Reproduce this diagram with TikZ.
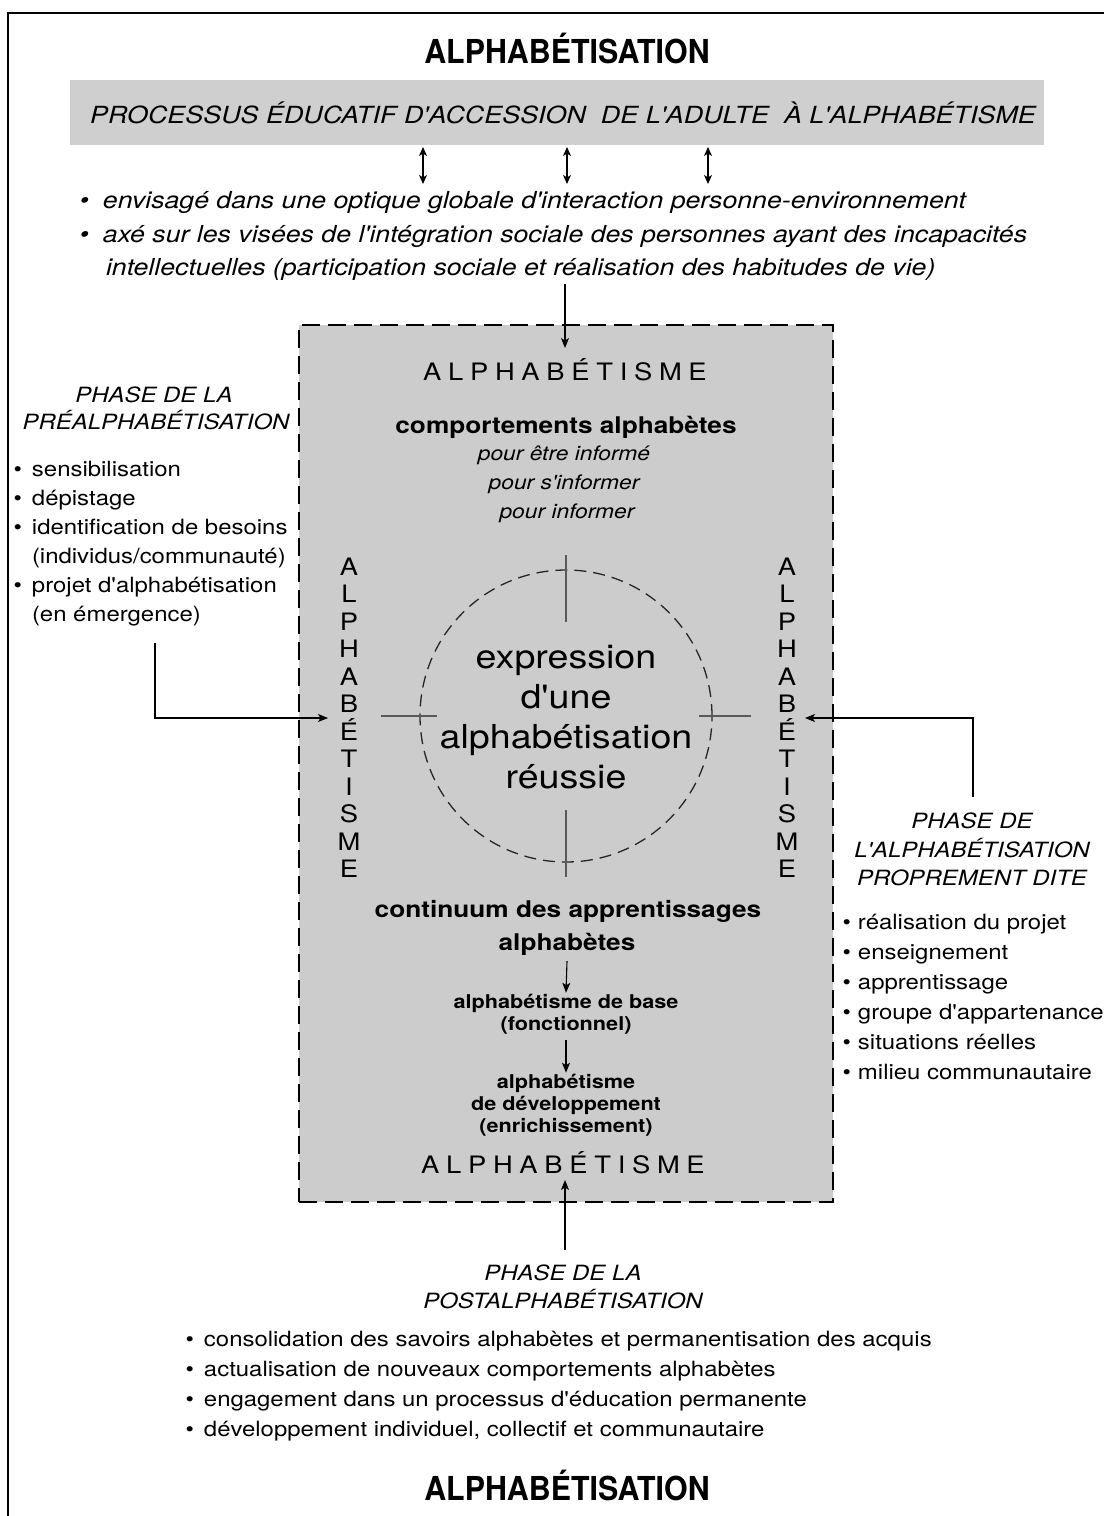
\documentclass[tikz,border=0pt]{standalone}
\usepackage{fontspec}
\setmainfont{TeX Gyre Heros}[FakeStretch=1.14, Ligatures=TeXOff]
\newfontfamily\titlefont{TeX Gyre Heros}[FakeStretch=0.92, Ligatures=TeXOff]
\usetikzlibrary{arrows.meta}
\definecolor{screen}{gray}{0.80}
\definecolor{bandgray}{gray}{0.81}
\newcommand\bul[1]{\makebox[0pt][r]{\textbullet\hspace{#1}}}
\newcommand\lsp{\hspace{6.7pt}}
\newcommand\spaceword{A\lsp L\lsp P\lsp H\lsp A\lsp B\lsp É\lsp T\lsp I\lsp S\lsp M\lsp E}

\begin{document}
\begin{tikzpicture}[x=1pt,y=-1pt,
  every node/.style={inner sep=0pt, outer sep=0pt},
  title/.style={anchor=base, font=\titlefont\bfseries\fontsize{33}{36}\selectfont},
  bantext/.style={anchor=base, font=\itshape\fontsize{23.6}{28}\selectfont},
  topitem/.style={anchor=base west, font=\itshape\fontsize{23.4}{28}\selectfont},
  item/.style={anchor=base west, font=\fontsize{21}{25}\selectfont},
  phase/.style={anchor=base, font=\itshape\fontsize{21}{25}\selectfont},
  spaced/.style={anchor=base, font=\fontsize{24}{28}\selectfont},
  vletter/.style={anchor=base, font=\fontsize{24}{28}\selectfont},
  heading/.style={anchor=base, font=\bfseries\fontsize{23}{28}\selectfont},
  purpose/.style={anchor=base, font=\itshape\fontsize{20}{24}\selectfont},
  level/.style={anchor=base, font=\bfseries\fontsize{19}{22}\selectfont},
  core/.style={anchor=base, font=\fontsize{33}{40}\selectfont},
  arr/.style={-{Stealth[length=10pt,width=8pt,inset=2.5pt]}, line width=1.1pt},
  dblarr/.style={{Stealth[length=9pt,width=8pt,inset=2.5pt]}-{Stealth[length=9pt,width=8pt,inset=2.5pt]}, line width=1.2pt},
  tick/.style={line width=1.4pt, black!65},
]
\useasboundingbox (0,0) rectangle (1104,1516);
\fill[white] (0,0) rectangle (1104,1516);

% outer frame (left and top rules)
\draw[line width=2.5pt] (8,1516) -- (8,13) -- (1104,13);

% heading and banner
\node[title] (ttop) at (567,63) {ALPHABÉTISATION};
\node[fill=bandgray, minimum width=974pt, minimum height=65pt] (band) at (557,112.5) {};
\node[bantext] (bandtxt) at (563,123) {PROCESSUS ÉDUCATIF D'ACCESSION\ \ DE L'ADULTE\ \ À L'ALPHABÉTISME};

% three two-way arrows below the banner
\foreach \xx [count=\k] in {423,567,708} {
  \coordinate (du\k) at (\xx,147);
  \coordinate (dd\k) at (\xx,184);
  \draw[dblarr] (du\k) -- (dd\k);
}

% orientation of the process
\node[topitem] (o1) at (103,208) {\bul{14pt}envisagé dans une optique globale d'interaction personne-environnement};
\node[topitem] (o2) at (103,242) {\bul{14pt}axé sur les visées de l'intégration sociale des personnes ayant des incapacités};
\node[topitem] (o3) at (106,275) {intellectuelles (participation sociale et réalisation des habitudes de vie)};

% central screened frame
\node[fill=screen, draw=black, line width=1.5pt, dash pattern=on 18pt off 8pt,
      minimum width=534pt, minimum height=877pt] (frame) at (566,763.5) {};

\coordinate (intop) at (565,284);
\coordinate (intopend) at (565,348);
\draw[arr] (intop) -- (intopend);

\node[spaced] (altop) at (565,380) {\spaceword};
\node[heading] (comp) at (566,433) {comportements alphabètes};
\node[purpose] (pu1) at (564,460) {pour être informé};
\node[purpose] (pu2) at (564,489) {pour s'informer};
\node[purpose] (pu3) at (567,518) {pour informer};

% vertical words on both sides
\foreach \ch [count=\i from 0] in {A,L,P,H,A,B,É,T,I,S,M,E} {
  \node[vletter] (vl\i) at (349,575+27.5*\i) {\ch};
  \node[vletter] (vr\i) at (787,575+27.5*\i) {\ch};
}

% dashed circle with its four ticks
\node[draw=black!85, line width=1.3pt, dash pattern=on 12pt off 7pt, circle,
      minimum size=292pt] (circ) at (566,716) {};
\draw[tick] ([yshift=15pt]circ.north) -- ([yshift=-52pt]circ.north);
\draw[tick] ([yshift=52pt]circ.south) -- ([yshift=-15pt]circ.south);
\draw[tick] ([xshift=-39pt]circ.west) -- ([xshift=17pt]circ.west);
\draw[tick] ([xshift=-13pt]circ.east) -- ([xshift=39pt]circ.east);

\node[core] (c1) at (566,668) {expression};
\node[core] (c2) at (566,708) {d'une};
\node[core] (c3) at (566,748) {alphabétisation};
\node[core] (c4) at (566,788) {réussie};

% continuum of learning
\node[heading] (cn1) at (568,917) {continuum des apprentissages};
\node[heading] (cn2) at (567,950) {alphabètes};
\node[level] (ba1) at (566,1008) {alphabétisme de base};
\node[level] (ba2) at (566,1030) {(fonctionnel)};
\node[level] (de1) at (566,1088) {alphabétisme};
\node[level] (de2) at (566,1110) {de développement};
\node[level] (de3) at (566,1132) {(enrichissement)};
\draw[arr] ([yshift=-6pt]cn2.south) -- ([yshift=1pt]ba1.north);
\draw[arr] ([yshift=-6pt]ba2.south) -- ([yshift=1pt]de1.north);

\node[spaced] (albot) at (563,1173) {\spaceword};

% post-literacy phase
\coordinate (postin) at (565,1250);
\coordinate (postend) at (565,1180);
\draw[arr] (postin) -- (postend);
\node[phase] (ps1) at (563,1280) {PHASE DE LA};
\node[phase] (ps2) at (563,1308) {POSTALPHABÉTISATION};
\node[item] (pl1) at (204,1346) {\bul{10pt}consolidation des savoirs alphabètes et permanentisation des acquis};
\node[item] (pl2) at (204,1376) {\bul{10pt}actualisation de nouveaux comportements alphabètes};
\node[item] (pl3) at (204,1406) {\bul{10pt}engagement dans un processus d'éducation permanente};
\node[item] (pl4) at (204,1436) {\bul{10pt}développement individuel, collectif et communautaire};

% pre-literacy phase
\node[phase] (pr0) at (154,402) {PHASE DE LA};
\node[phase] (pr00) at (156,429) {PRÉALPHABÉTISATION};
\node[item] (pr1) at (32,476) {\bul{10pt}sensibilisation};
\node[item] (pr2) at (32,505) {\bul{10pt}dépistage};
\node[item] (pr3) at (32,534) {\bul{10pt}identification de besoins};
\node[item] (pr4) at (32,563) {(individus/communauté)};
\node[item] (pr5) at (32,592) {\bul{10pt}projet d'alphabétisation};
\node[item] (pr6) at (32,621) {(en émergence)};
\coordinate (prfrom) at (155,643);
\coordinate (prto) at (328,718);
\draw[arr] (prfrom) |- (prto);

% literacy phase proper
\node[phase] (al1) at (972,828) {PHASE DE};
\node[phase] (al2) at (972,857) {L'ALPHABÉTISATION};
\node[phase] (al3) at (972,885) {PROPREMENT DITE};
\node[item] (ar1) at (858,929) {\bul{7pt}réalisation du projet};
\node[item] (ar2) at (858,959) {\bul{7pt}enseignement};
\node[item] (ar3) at (858,989) {\bul{7pt}apprentissage};
\node[item] (ar4) at (858,1019) {\bul{7pt}groupe d'appartenance};
\node[item] (ar5) at (858,1049) {\bul{7pt}situations réelles};
\node[item] (ar6) at (858,1079) {\bul{7pt}milieu communautaire};
\coordinate (alfrom) at (973,797);
\coordinate (alto) at (805,718);
\draw[arr] (alfrom) |- (alto);

\node[title] (tbot) at (567,1500) {ALPHABÉTISATION};
\end{tikzpicture}
\end{document}
